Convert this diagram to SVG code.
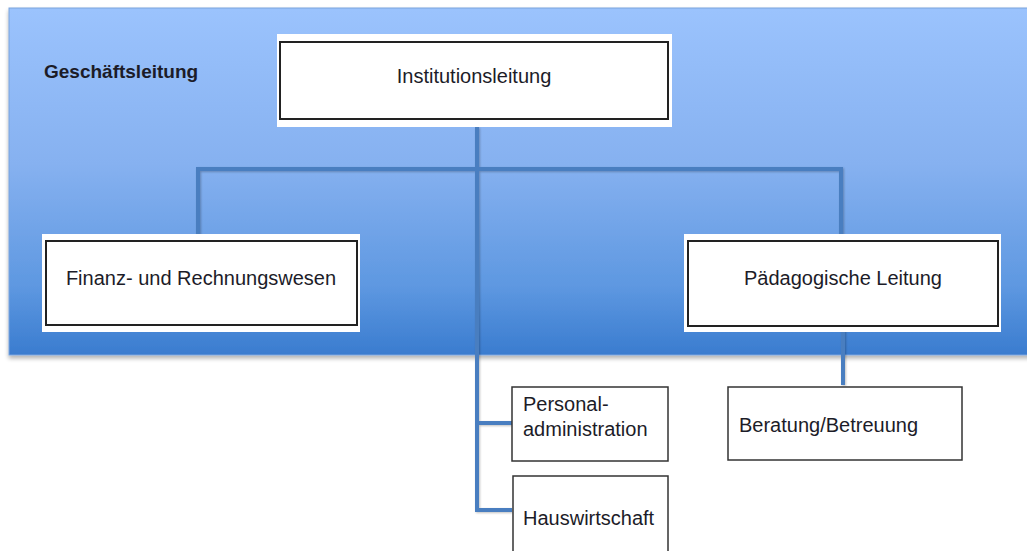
<svg xmlns="http://www.w3.org/2000/svg" width="1027" height="551" viewBox="0 0 1027 551">
  <defs>
    <linearGradient id="bg" x1="0" y1="0" x2="0" y2="1">
      <stop offset="0" stop-color="#9bc3fd"/>
      <stop offset="0.45" stop-color="#86b1f0"/>
      <stop offset="0.8" stop-color="#5e98e1"/>
      <stop offset="1" stop-color="#3a7ccf"/>
    </linearGradient>
    <filter id="shadow" x="-5%" y="-5%" width="110%" height="115%">
      <feGaussianBlur in="SourceAlpha" stdDeviation="2"/>
      <feOffset dx="0" dy="3" result="b"/>
      <feComponentTransfer><feFuncA type="linear" slope="0.3"/></feComponentTransfer>
      <feMerge><feMergeNode/><feMergeNode in="SourceGraphic"/></feMerge>
    </filter>
    <filter id="lshadow" x="-20%" y="-20%" width="140%" height="140%">
      <feGaussianBlur in="SourceAlpha" stdDeviation="1"/>
      <feOffset dx="1" dy="1" result="b"/>
      <feComponentTransfer><feFuncA type="linear" slope="0.25"/></feComponentTransfer>
      <feMerge><feMergeNode/><feMergeNode in="SourceGraphic"/></feMerge>
    </filter>
  </defs>
  <style>
    .lbl { font-family: "Liberation Sans", Arial, sans-serif; font-size: 20px; fill: #1c1c28; }
    .title { font-family: "Liberation Sans", Arial, sans-serif; font-size: 19px; font-weight: bold; fill: #1c1c28; }
    .outer { fill: #ffffff; }
    .inner { fill: #ffffff; stroke: #222222; stroke-width: 2; }
    .box { fill: #ffffff; stroke: #333333; stroke-width: 1.5; }
    .conn { fill: none; stroke: #4a7ec0; stroke-width: 4; }
  </style>

  <rect width="1027" height="551" fill="#ffffff"/>

  <g id="background">
    <rect x="9" y="8" width="1030" height="347" fill="url(#bg)" stroke="#7aa3dc" stroke-width="1" filter="url(#shadow)"/>
    <text class="title" x="44" y="78">Geschäftsleitung</text>
  </g>

  <g id="connectors" filter="url(#lshadow)">
    <path class="conn" d="M198,236 V169 H841 V236"/>
    <path class="conn" d="M477,127 V510 H512"/>
    <path class="conn" d="M477,423 H512"/>
    <path class="conn" d="M843,326 V385"/>
  </g>

  <g id="institutionsleitung">
    <rect class="outer" x="277" y="34" width="395" height="93"/>
    <rect class="inner" x="280" y="42" width="388" height="77"/>
    <text class="lbl" x="474" y="83" text-anchor="middle">Institutionsleitung</text>
  </g>

  <g id="finanz">
    <rect class="outer" x="42" y="234" width="318" height="98"/>
    <rect class="inner" x="46" y="241" width="311" height="84"/>
    <text class="lbl" x="201" y="285" text-anchor="middle">Finanz- und Rechnungswesen</text>
  </g>

  <g id="paedagogische-leitung">
    <rect class="outer" x="684" y="234" width="317" height="98"/>
    <rect class="inner" x="688" y="241" width="310" height="85"/>
    <text class="lbl" x="843" y="285" text-anchor="middle">Pädagogische Leitung</text>
  </g>

  <g id="personaladministration">
    <rect class="box" x="512" y="387" width="156" height="74"/>
    <text class="lbl" x="523" y="411">Personal-</text>
    <text class="lbl" x="523" y="436">administration</text>
  </g>

  <g id="hauswirtschaft">
    <rect class="box" x="513" y="476" width="155" height="90"/>
    <text class="lbl" x="523" y="525">Hauswirtschaft</text>
  </g>

  <g id="beratung">
    <rect class="box" x="728" y="387" width="234" height="73"/>
    <text class="lbl" x="739" y="432">Beratung/Betreuung</text>
  </g>
</svg>
